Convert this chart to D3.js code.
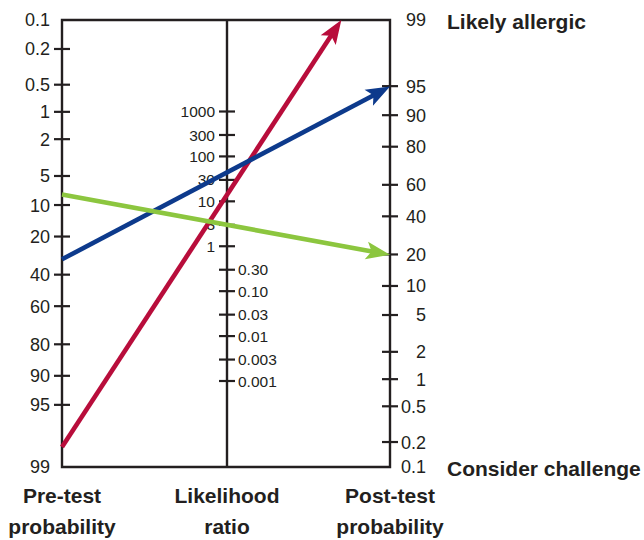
<!DOCTYPE html>
<html><head><meta charset="utf-8">
<script src="https://cdn.jsdelivr.net/npm/d3@7/dist/d3.min.js"></script>
<style>html,body{margin:0;padding:0;background:#fff;}svg{display:block;font-family:"Liberation Sans",Arial,sans-serif;}</style>
</head><body>
<svg id="c" width="644" height="540"></svg>
<script>
// ---- data ----
const preTicks = [0.1, 0.2, 0.5, 1, 2, 5, 10, 20, 40, 60, 80, 90, 95, 99];
const postTicks = [99, 95, 90, 80, 60, 40, 20, 10, 5, 2, 1, 0.5, 0.2, 0.1];
const lrTicks = [1000, 300, 100, 30, 10, 3, 1, 0.3, 0.1, 0.03, 0.01, 0.003, 0.001];
const lrLabels = ["1000", "300", "100", "30", "10", "3", "1", "0.30", "0.10", "0.03", "0.01", "0.003", "0.001"];
const seriesNames = ["Red", "Blue", "Green"];
const preTest = [98.25, 31, 7.8];         // pre-test probability (%)
const likelihoodRatio = [14, 44, 3];      // likelihood ratio
const seriesColors = ["#b80d3b", "#0d3a8c", "#8cc63f"];
const axisTitles = [["Pre-test", "probability"], ["Likelihood", "ratio"], ["Post-test", "probability"]];
const sideLabels = ["Likely allergic", "Consider challenge"];

// ---- layout ----
(function () {
const svg = d3.select("#c");
const yTop = 20, yBot = 467;
const xL = 62, xM = 227, xR = 390;
const ink = "#231f20";
const logit = p => Math.log(p / (1 - p));
const yPre = d3.scaleLinear().domain([logit(0.001), logit(0.99)]).range([yTop + 2, yBot + 2]);
const yPost = d3.scaleLinear().domain([logit(0.99), logit(0.001)]).range([yTop + 2, yBot + 2]);
const yLR = d3.scaleLog().domain([0.001, 1000]).range([381, 111.5]);
const preY = p => yPre(logit(p / 100));
const postY = p => yPost(logit(p / 100));

const g = svg.append("g");
g.append("path")
  .attr("d", `M${xL},${yTop}H${xR}V${yBot}H${xL}Z M${xM},${yTop}V${yBot}`)
  .attr("fill", "none").attr("stroke", ink).attr("stroke-width", 2.4);

function ticks(x, vals, yf, skipEnds) {
  g.selectAll(null).data(vals.filter((d, i) => !skipEnds || (i > 0 && i < vals.length - 1)))
    .enter().append("line")
    .attr("x1", x - 8).attr("x2", x + 8)
    .attr("y1", d => yf(d)).attr("y2", d => yf(d))
    .attr("stroke", ink).attr("stroke-width", 2.2);
}
ticks(xL, preTicks, preY, true);
ticks(xR, postTicks, postY, true);
ticks(xM, lrTicks, yLR, false);

const endY = (vals, i, yf) => i === 0 ? yTop : (i === vals.length - 1 ? yBot : yf(vals[i]));
g.selectAll(null).data(preTicks).enter().append("text")
  .attr("x", 50).attr("y", (d, i) => endY(preTicks, i, preY)).attr("dy", "0.36em")
  .attr("text-anchor", "end").attr("font-size", 18).attr("fill", ink)
  .text(d => String(d));
g.selectAll(null).data(postTicks).enter().append("text")
  .attr("x", 426).attr("y", (d, i) => endY(postTicks, i, postY)).attr("dy", "0.36em")
  .attr("text-anchor", "end").attr("font-size", 18).attr("fill", ink)
  .text(d => String(d));
g.selectAll(null).data(lrTicks).enter().append("text")
  .attr("x", d => d >= 1 ? 215 : 238).attr("y", d => yLR(d)).attr("dy", "0.36em")
  .attr("text-anchor", d => d >= 1 ? "end" : "start").attr("font-size", 15.5).attr("fill", ink)
  .text((d, i) => lrLabels[i]);

g.append("text").attr("x", 447).attr("y", yTop + 1).attr("dy", "0.36em")
  .attr("font-size", 21).attr("font-weight", "bold").attr("fill", ink).text(sideLabels[0]);
g.append("text").attr("x", 447).attr("y", yBot + 1).attr("dy", "0.36em")
  .attr("font-size", 21).attr("font-weight", "bold").attr("fill", ink).text(sideLabels[1]);

[xL, xM, xR].forEach((x, i) => {
  axisTitles[i].forEach((t, j) => {
    g.append("text").attr("x", x).attr("y", 503 + j * 31)
      .attr("text-anchor", "middle").attr("font-size", 21).attr("font-weight", "bold")
      .attr("fill", ink).text(t);
  });
});

const headLen = 24, headHalf = 9;
seriesNames.forEach((name, i) => {
  const y0 = preY(preTest[i]);
  const y1 = yLR(likelihoodRatio[i]);
  const slope = (y1 - y0) / (xM - xL);
  let xe = xR, ye = y0 + slope * (xR - xL);
  if (ye < yTop) { ye = yTop; xe = xL + (yTop - y0) / slope; }
  if (ye > yBot) { ye = yBot; xe = xL + (yBot - y0) / slope; }
  const dx = xe - xL, dy = ye - y0, len = Math.hypot(dx, dy);
  const ux = dx / len, uy = dy / len, nx = -uy, ny = ux;
  const bx = xe - ux * headLen, by = ye - uy * headLen;
  const col = seriesColors[i];
  g.append("line").attr("x1", xL).attr("y1", y0)
    .attr("x2", xe - ux * headLen * 0.7).attr("y2", ye - uy * headLen * 0.7)
    .attr("stroke", col).attr("stroke-width", 4.6);
  const nbx = xe - ux * headLen * 0.78, nby = ye - uy * headLen * 0.78;
  g.append("path")
    .attr("d", `M${xe},${ye}L${bx + nx * headHalf},${by + ny * headHalf}L${nbx},${nby}L${bx - nx * headHalf},${by - ny * headHalf}Z`)
    .attr("fill", col);
});
})();
</script>
</body></html>
